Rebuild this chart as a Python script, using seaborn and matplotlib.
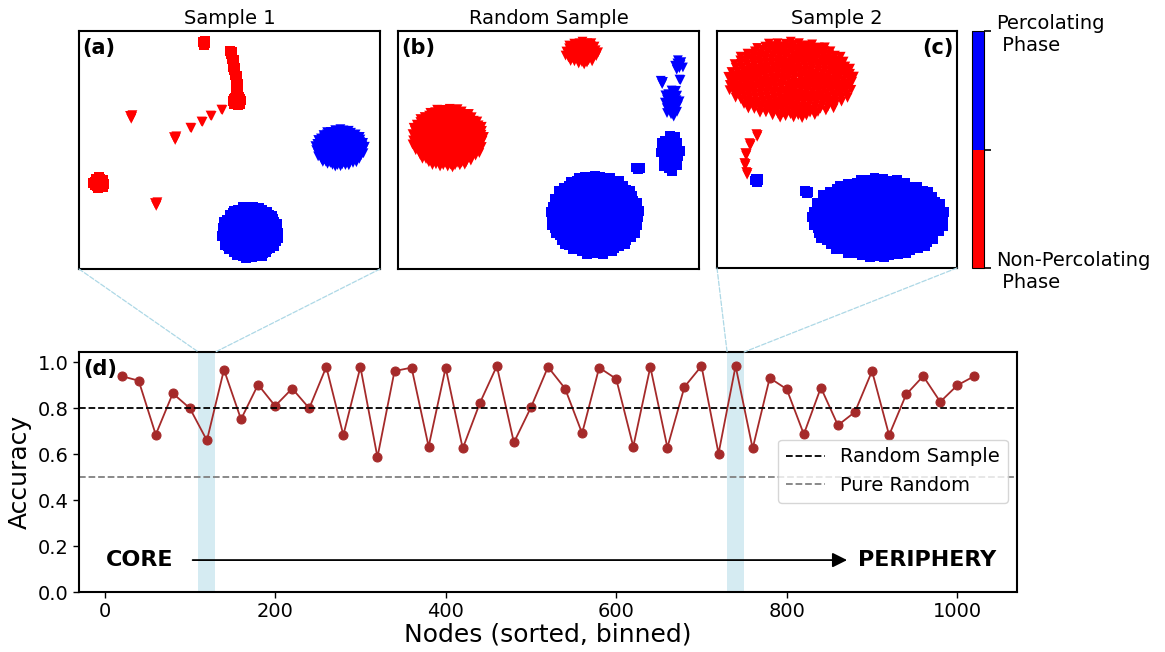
import numpy as np
import pandas as pd
import matplotlib
matplotlib.use('Agg')
import matplotlib.pyplot as plt
import seaborn as sns
from matplotlib.colors import ListedColormap, BoundaryNorm
from matplotlib.cm import ScalarMappable
from matplotlib.patches import ConnectionPatch

# Accuracy per bin of sorted nodes (panel d)
nodes = np.arange(20, 1021, 20)
accuracy = [0.94, 0.92, 0.685, 0.865, 0.80, 0.66, 0.968, 0.752, 0.903, 0.81,
            0.886, 0.80, 0.98, 0.683, 0.98, 0.587, 0.962, 0.977, 0.633, 0.977,
            0.625, 0.822, 0.984, 0.651, 0.804, 0.98, 0.886, 0.691, 0.977, 0.928,
            0.633, 0.98, 0.629, 0.893, 0.984, 0.603, 0.984, 0.625, 0.932, 0.883,
            0.687, 0.89, 0.726, 0.784, 0.962, 0.683, 0.86, 0.94, 0.828, 0.90,
            0.94]
random_sample_acc = 0.8
pure_random_acc = 0.5
window_1 = (110, 130)
window_2 = (730, 750)

# t-SNE clusters: (cx, cy, rx, ry, n, phase, marker)
clusters_a = [
    (41.5, 95.0, 0.8, 1.0, 4, 'red', 's'),
    (50.5, 91.2, 0.6, 0.8, 3, 'red', 's'),
    (51.2, 87.8, 0.6, 0.8, 3, 'red', 's'),
    (51.5, 84.5, 0.6, 0.8, 3, 'red', 's'),
    (52.2, 81.1, 0.6, 0.8, 3, 'red', 's'),
    (52.5, 77.7, 0.6, 0.8, 3, 'red', 's'),
    (52.5, 75.2, 0.6, 0.8, 3, 'red', 's'),
    (52.5, 70.6, 1.5, 1.9, 25, 'red', 's'),
    (17.3, 63.9, 0.8, 1.0, 4, 'red', 'v'),
    (31.9, 55.0, 0.8, 1.0, 4, 'red', 'v'),
    (37.2, 59.2, 0.3, 0.3, 2, 'red', 'v'),
    (40.9, 61.8, 0.3, 0.3, 2, 'red', 'v'),
    (43.9, 64.3, 0.3, 0.3, 2, 'red', 'v'),
    (47.5, 66.8, 0.3, 0.3, 2, 'red', 'v'),
    (25.6, 27.3, 0.8, 1.0, 4, 'red', 'v'),
    (6.6, 36.1, 2.0, 2.5, 20, 'red', 's'),
    (86.7, 50.8, 8.3, 8.0, 200, 'blue', 'v'),
    (56.8, 15.5, 9.6, 11.0, 250, 'blue', 's'),
]
clusters_b = [
    (61.1, 90.8, 5.6, 5.0, 60, 'red', 'v'),
    (16.6, 55.0, 12.2, 12.6, 300, 'red', 'v'),
    (93.4, 85.7, 1.8, 2.3, 8, 'blue', 'v'),
    (87.7, 78.6, 0.8, 1.0, 3, 'blue', 'v'),
    (93.7, 79.4, 0.3, 0.3, 2, 'blue', 'v'),
    (91.0, 69.7, 2.8, 6.0, 25, 'blue', 'v'),
    (90.4, 48.7, 3.6, 8.0, 25, 'blue', 's'),
    (79.7, 42.4, 1.5, 0.5, 3, 'blue', 's'),
    (65.4, 22.7, 15.0, 16.8, 350, 'blue', 's'),
]
clusters_c = [
    (30.8, 79.3, 26.6, 16.4, 350, 'red', 'v'),
    (16.7, 56.1, 0.6, 0.8, 3, 'red', 'v'),
    (13.8, 52.3, 0.6, 0.8, 3, 'red', 'v'),
    (12.1, 48.1, 0.6, 0.8, 3, 'red', 'v'),
    (11.7, 43.9, 0.6, 0.8, 3, 'red', 'v'),
    (12.5, 40.1, 0.6, 0.8, 3, 'red', 'v'),
    (16.7, 37.1, 1.0, 1.0, 5, 'blue', 's'),
    (37.5, 32.1, 1.5, 0.6, 3, 'blue', 's'),
    (67.1, 21.1, 27.9, 16.9, 400, 'blue', 's'),
]
panel_titles = ['Sample 1', 'Random Sample', 'Sample 2']
panel_tags = ['(a)', '(b)', '(c)']
phase_labels = ['Non-Percolating\n Phase', '', 'Percolating\n Phase']

plt.rcParams['axes.linewidth'] = 1.5
plt.rcParams['font.family'] = ['DejaVu Sans']


def blob_frame(clusters):
    # spread n points evenly (sunflower layout) over each cluster ellipse
    golden = np.pi * (3 - np.sqrt(5))
    parts = []
    for cx, cy, rx, ry, n, phase, mark in clusters:
        k = np.arange(n)
        r = np.sqrt((k + 0.5) / n)
        t = k * golden
        parts.append(pd.DataFrame({'x': cx + rx * r * np.cos(t),
                                   'y': cy + ry * r * np.sin(t),
                                   'phase': phase, 'mark': mark}))
    return pd.concat(parts, ignore_index=True)


W, H = 1165, 652
fig = plt.figure(figsize=(W / 100, H / 100), dpi=100)


def px_axes(left, top, right, bottom):
    return fig.add_axes([left / W, 1 - bottom / H, (right - left) / W, (bottom - top) / H])


ax_a = px_axes(79, 31, 380, 269)
ax_b = px_axes(398, 31, 699, 269)
ax_c = px_axes(717, 31, 957, 268)
cax = px_axes(972, 31, 984, 268)
ax_d = px_axes(79, 352, 1017, 592)

for ax, clusters, title, tag in zip([ax_a, ax_b, ax_c], [clusters_a, clusters_b, clusters_c],
                                    panel_titles, panel_tags):
    df = blob_frame(clusters)
    sns.scatterplot(data=df, x='x', y='y', hue='phase', style='mark',
                    palette={'red': 'red', 'blue': 'blue'}, markers={'s': 's', 'v': 'v'},
                    s=50, linewidth=0, legend=False, ax=ax)
    ax.set_xlim(0, 100)
    ax.set_ylim(0, 100)
    ax.set_xticks([])
    ax.set_yticks([])
    ax.set_xlabel('')
    ax.set_ylabel('')
    ax.set_title(title, fontsize=14, pad=5)
    if tag == '(c)':
        ax.text(0.985, 0.97, tag, transform=ax.transAxes, ha='right', va='top',
                fontsize=15, fontweight='bold')
    else:
        ax.text(0.012, 0.97, tag, transform=ax.transAxes, ha='left', va='top',
                fontsize=15, fontweight='bold')

# colour bar for the two phases
cmap = ListedColormap(['red', 'blue'])
norm = BoundaryNorm([0, 1, 2], cmap.N)
cb = fig.colorbar(ScalarMappable(norm=norm, cmap=cmap), cax=cax, ticks=[0, 1, 2])
cb.ax.set_yticklabels(phase_labels, fontsize=14)
cb.ax.tick_params(length=5, width=1.2)
cb.outline.set_linewidth(0.8)

# panel (d)
ax_d.axvspan(*window_1, color='lightblue', alpha=0.5, lw=0)
ax_d.axvspan(*window_2, color='lightblue', alpha=0.5, lw=0)
sns.lineplot(x=nodes, y=accuracy, color='#a52a2a', marker='o', markersize=6.5,
             markeredgecolor='#a52a2a', linewidth=1.3, ax=ax_d)
ax_d.axhline(random_sample_acc, color='black', ls='--', lw=1.3, label='Random Sample')
ax_d.axhline(pure_random_acc, color='gray', ls='--', lw=1.3, label='Pure Random')
ax_d.set_ylim(0, 1.045)
ax_d.set_yticks([0.0, 0.2, 0.4, 0.6, 0.8, 1.0])
ax_d.set_xticks([0, 200, 400, 600, 800, 1000])
ax_d.tick_params(labelsize=14, length=4, width=1)
ax_d.set_xlabel('Nodes (sorted, binned)', fontsize=18, labelpad=1)
ax_d.set_ylabel('Accuracy', fontsize=18)
ax_d.legend(loc='upper right', bbox_to_anchor=(0.99, 0.635), borderaxespad=0, fontsize=14)
ax_d.text(0.004, 0.97, '(d)', transform=ax_d.transAxes, ha='left', va='top',
          fontsize=15, fontweight='bold')
ax_d.text(1, 0.139, 'CORE', ha='left', va='center', fontsize=16, fontweight='bold')
ax_d.text(883, 0.139, 'PERIPHERY', ha='left', va='center', fontsize=16, fontweight='bold')
ax_d.annotate('', xy=(874, 0.139), xytext=(100, 0.139),
              arrowprops=dict(arrowstyle='-|>', color='black', lw=1.3, mutation_scale=22))

# zoom guides from the sample panels down to their windows
top = ax_d.get_ylim()[1]
for ax, (x0, x1) in [(ax_a, window_1), (ax_c, window_2)]:
    for frac, xd in [(0, x0), (1, x1)]:
        con = ConnectionPatch(xyA=(frac, 0), coordsA=ax.transAxes,
                              xyB=(xd, top), coordsB=ax_d.transData,
                              color='lightblue', ls='--', lw=0.9)
        fig.add_artist(con)

fig.savefig('out.png', dpi=100)
